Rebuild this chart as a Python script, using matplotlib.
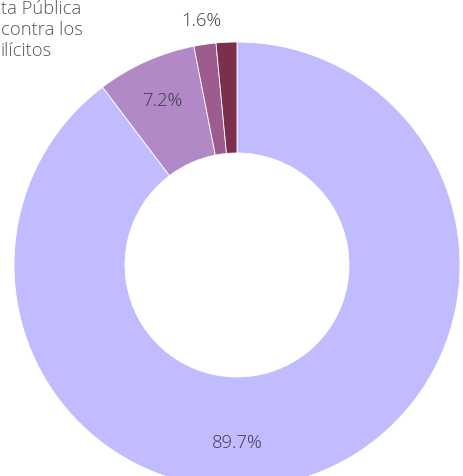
import numpy as np
import matplotlib
matplotlib.use("Agg")
import matplotlib.pyplot as plt

# slice data, clockwise from 12 o'clock
values = [89.7, 7.2, 1.6, 1.5]
pct_labels = ["89.7%", "7.2%", "1.6%", ""]
colors = ["#c0bcff", "#b089c6", "#9e5b90", "#7b2f4e"]
# only the part of the category label that shows inside the frame
cut_label = "ta Pública\ncontra los\nilícitos"

W, H = 463, 476
fig = plt.figure(figsize=(W / 100, H / 100), dpi=100)
ax = fig.add_axes([0, 0, 1, 1])

cx, cy = 237, H - 265
R = 223
ring = 111

wedges, _ = ax.pie(
    values, colors=colors, startangle=90, counterclock=False,
    radius=R, center=(cx, cy),
    wedgeprops=dict(width=ring, edgecolor="white", linewidth=0.6),
)
ax.set_xlim(0, W)
ax.set_ylim(0, H)
ax.set_aspect("auto")
ax.axis("off")

font = dict(family="Open Sans", fontsize=13.2, color="#3a3a48", fontweight="light")

# big slice label sits at the bottom of the ring, others at mid-angle
for w, lab in zip(wedges, pct_labels):
    if not lab:
        continue
    mid = np.deg2rad((w.theta1 + w.theta2) / 2)
    if lab == "89.7%":
        mid = np.deg2rad(-90)
        r = R - ring / 2 + 10
    elif lab == "1.6%":
        r = R * 1.105
    else:
        r = R - ring / 2 + 12
    ax.text(cx + r * np.cos(mid), cy + r * np.sin(mid), lab,
            ha="center", va="center", **font)

ax.text(1, H - 30, cut_label, ha="left", va="center",
        family="Open Sans", fontsize=13.2, fontweight="light",
        color="#555555", linespacing=1.2)

fig.savefig("out.png", dpi=100, facecolor="white")
